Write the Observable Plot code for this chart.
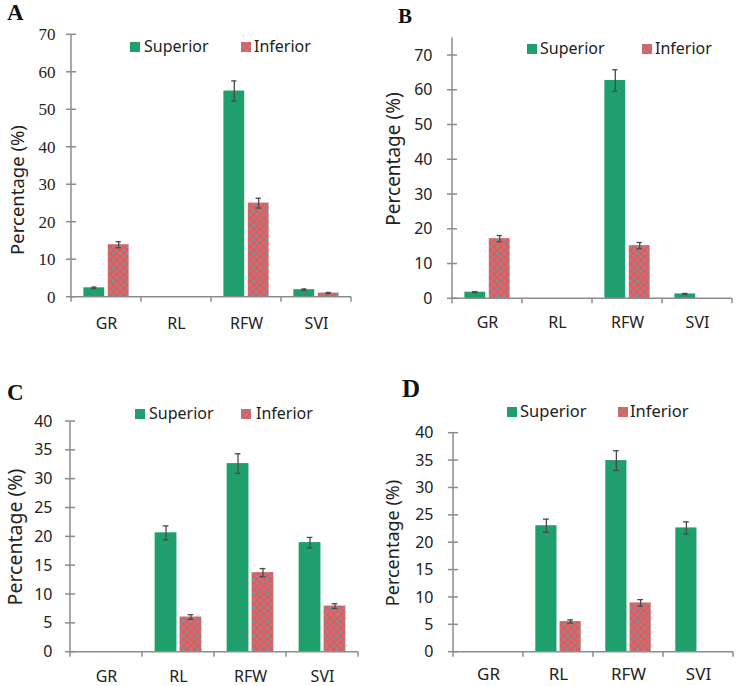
<!DOCTYPE html>
<html><head><meta charset="utf-8">
<script src="https://cdn.jsdelivr.net/npm/d3@7"></script>
<script src="https://cdn.jsdelivr.net/npm/@observablehq/plot@0.6"></script>
<style>
body{margin:0;background:#fff;}
#root{position:relative;width:738px;height:686px;overflow:hidden;background:#fff;}
#root > svg{position:absolute;}
</style></head><body>
<svg width="0" height="0" style="position:absolute">
<defs><pattern id="chk" width="7" height="7" patternUnits="userSpaceOnUse">
<rect width="7" height="7" fill="#e8585c"/>
<rect x="0" y="0" width="3" height="3" fill="#918a8c"/>
<rect x="3.5" y="3.5" width="3" height="3" fill="#918a8c"/>
</pattern></defs></svg>
<div id="root"></div>
<script>
// ---------- data ----------
const categories = ["GR", "RL", "RFW", "SVI"];
const seriesNames = ["Superior", "Inferior"];
const panelLabels = ["A", "B", "C", "D"];
const yTitle = "Percentage (%)";

const supA = [2.5, null, 55.0, 2.0],   supErrA = [0.2, null, 2.7, 0.2];
const infA = [14.0, null, 25.1, 1.1],  infErrA = [0.8, null, 1.3, 0.15];
const supB = [1.9, null, 62.8, 1.4],   supErrB = [0.15, null, 3.1, 0.15];
const infB = [17.3, null, 15.3, null], infErrB = [0.9, null, 0.9, null];
const supC = [null, 20.7, 32.7, 19.0], supErrC = [null, 1.2, 1.7, 0.9];
const infC = [null, 6.1, 13.8, 8.0],   infErrC = [null, 0.4, 0.7, 0.4];
const supD = [null, 23.1, 35.0, 22.7], supErrD = [null, 1.2, 1.8, 1.1];
const infD = [null, 5.6, 9.0, null],   infErrD = [null, 0.3, 0.6, null];

const yTicksAB = [0, 10, 20, 30, 40, 50, 60, 70];
const yTicksCD = [0, 5, 10, 15, 20, 25, 30, 35, 40];
const yMax = {A: 70, B: 75, C: 40, D: 40};

// ---------- styles / layout ----------
const GREEN = "#1f9f6c", ERR = "#4a4a4a", AXIS = "#8c8c8c";
const SANS = "'Noto Sans', 'Open Sans', sans-serif";
const SERIF = "'Liberation Serif', 'DejaVu Serif', serif";

const layout = {
  A: {left: 0, top: 0, width: 369, height: 340, ml: 69, mr: 17, mt: 34.3, mb: 43.3,
      yFont: SERIF, yFontSize: 17, yPad: 14, xFontSize: 16, xPad: 20,
      letter: {x: 7, y: 20, size: 23}, title: {x: 24, y: 190, size: 18.5},
      legend: {y: 52, sq: 130, sup: 144, sq2: 241, inf: 254, size: 16}},
  B: {left: 370, top: 0, width: 368, height: 340, ml: 80, mr: 5, mt: 37.6, mb: 41.7,
      yFont: SANS, yFontSize: 16, yPad: 18, xFontSize: 16, xPad: 18,
      letter: {x: 398, y: 23, size: 21}, title: {x: 400, y: 159, size: 19},
      legend: {y: 54, sq: 527, sup: 540, sq2: 642, inf: 655, size: 16}},
  C: {left: 0, top: 340, width: 370, height: 346, ml: 69, mr: 12, mt: 81, mb: 34.3,
      yFont: SANS, yFontSize: 16, yPad: 17, xFontSize: 16, xPad: 18,
      letter: {x: 7, y: 400, size: 23}, title: {x: 21.5, y: 537, size: 19.5},
      legend: {y: 419, sq: 135, sup: 149, sq2: 241, inf: 256, size: 16}},
  D: {left: 370, top: 340, width: 368, height: 346, ml: 82, mr: 5, mt: 92.7, mb: 34.3,
      yFont: SANS, yFontSize: 16, yPad: 19, xFontSize: 17, xPad: 16,
      letter: {x: 402, y: 397, size: 25}, title: {x: 399, y: 543, size: 18},
      legend: {y: 417, sq: 507, sup: 520, sq2: 618, inf: 630, size: 16.5}}
};

const panelData = {
  A: {sup: supA, supErr: supErrA, inf: infA, infErr: infErrA, ticks: yTicksAB},
  B: {sup: supB, supErr: supErrB, inf: infB, infErr: infErrB, ticks: yTicksAB},
  C: {sup: supC, supErr: supErrC, inf: infC, infErr: infErrC, ticks: yTicksCD},
  D: {sup: supD, supErr: supErrD, inf: infD, infErr: infErrD, ticks: yTicksCD}
};

function axesMark(ticks) {
  return (index, scales, values, dims) => {
    const {x, y} = scales;
    const bw = x.bandwidth ? x.bandwidth() : (dims.width - dims.marginLeft - dims.marginRight) / categories.length;
    const g = d3.create("svg:g").attr("stroke", AXIS).attr("stroke-width", 1.5).attr("fill", "none");
    const x0 = x(categories[0]), x1 = x(categories[categories.length - 1]) + bw;
    const y0 = y(0), yTop = y(y.domain()[1]);
    g.append("line").attr("x1", x0).attr("x2", x0).attr("y1", yTop).attr("y2", y0);
    g.append("line").attr("x1", x0).attr("x2", x1).attr("y1", y0).attr("y2", y0);
    for (const t of ticks) g.append("line").attr("x1", x0 - 5).attr("x2", x0 + 5).attr("y1", y(t)).attr("y2", y(t));
    const bounds = categories.map(c => x(c)).concat([x1]);
    for (const b of bounds) g.append("line").attr("x1", b).attr("x2", b).attr("y1", y0).attr("y2", y0 + 5);
    return g.node();
  };
}

function rows(vals, errs) {
  return categories.map((c, i) => ({cat: c, v: vals[i], e: errs[i]})).filter(d => d.v != null && d.v > 0);
}

const root = document.getElementById("root");

for (const key of panelLabels) {
  const L = layout[key], D = panelData[key];
  const bw = (L.width - L.ml - L.mr) / categories.length;
  const o = 0.175, w = 0.305, gap = 0.04;
  const supL = o * bw, supR = (1 - o - w) * bw;
  const infL = (o + w + gap) * bw, infR = (1 - o - 2 * w - gap) * bw;
  const supCx = (o + w / 2) * bw, infCx = (o + w + gap + w / 2) * bw;
  const cap = 3;
  const sRows = rows(D.sup, D.supErr), iRows = rows(D.inf, D.infErr);

  const errMarks = (data, cx) => [
    Plot.ruleX(data, {x: "cat", y1: d => d.v - d.e, y2: d => d.v + d.e, dx: cx - bw / 2, stroke: ERR, strokeWidth: 1.3}),
    Plot.tickY(data, {x: "cat", y: d => d.v + d.e, insetLeft: cx - cap, insetRight: bw - cx - cap, stroke: ERR, strokeWidth: 1.3}),
    Plot.tickY(data, {x: "cat", y: d => d.v - d.e, insetLeft: cx - cap, insetRight: bw - cx - cap, stroke: ERR, strokeWidth: 1.3})
  ];

  const chart = Plot.plot({
    width: L.width, height: L.height,
    marginLeft: L.ml, marginRight: L.mr, marginTop: L.mt, marginBottom: L.mb,
    style: {fontFamily: SANS, fontSize: "16px", color: "#222", background: "transparent", overflow: "visible"},
    x: {type: "band", domain: categories, padding: 0},
    y: {domain: [0, yMax[key]]},
    marks: [
      Plot.axisY({ticks: D.ticks, tickSize: 0, tickPadding: L.yPad, label: null,
                  fontFamily: L.yFont, fontSize: L.yFontSize, color: "#222"}),
      Plot.axisX({tickSize: 0, tickPadding: L.xPad, label: null, fontSize: L.xFontSize, color: "#222"}),
      Plot.barY(sRows, {x: "cat", y: "v", fill: GREEN, insetLeft: supL, insetRight: supR}),
      Plot.barY(iRows, {x: "cat", y: "v", fill: "url(#chk)", insetLeft: infL, insetRight: infR}),
      ...errMarks(sRows, supCx),
      ...errMarks(iRows, infCx),
      axesMark(D.ticks)
    ]
  });
  chart.style.left = L.left + "px";
  chart.style.top = L.top + "px";
  root.appendChild(chart);
}

// overlay: panel letters, y titles, legends
const ov = d3.select(root).append("svg").attr("width", 738).attr("height", 686)
  .style("left", "0px").style("top", "0px").style("pointer-events", "none");
for (const key of panelLabels) {
  const L = layout[key];
  ov.append("text").attr("x", L.letter.x).attr("y", L.letter.y)
    .attr("font-family", SERIF).attr("font-weight", "bold").attr("font-size", L.letter.size)
    .attr("fill", "#111").text(key);
  ov.append("text").attr("transform", `translate(${L.title.x},${L.title.y}) rotate(-90)`)
    .attr("text-anchor", "middle").attr("font-family", SANS).attr("font-size", L.title.size)
    .attr("fill", "#222").text(yTitle);
  const lg = L.legend;
  const sqY = lg.y - 10;
  ov.append("rect").attr("x", lg.sq).attr("y", sqY).attr("width", 10).attr("height", 10).attr("fill", GREEN);
  ov.append("text").attr("x", lg.sup).attr("y", lg.y).attr("font-family", SANS).attr("font-size", lg.size)
    .attr("fill", "#222").text(seriesNames[0]);
  ov.append("rect").attr("x", lg.sq2).attr("y", sqY).attr("width", 10).attr("height", 10).attr("fill", "url(#chk)");
  ov.append("text").attr("x", lg.inf).attr("y", lg.y).attr("font-family", SANS).attr("font-size", lg.size)
    .attr("fill", "#222").text(seriesNames[1]);
}
</script>
</body></html>
